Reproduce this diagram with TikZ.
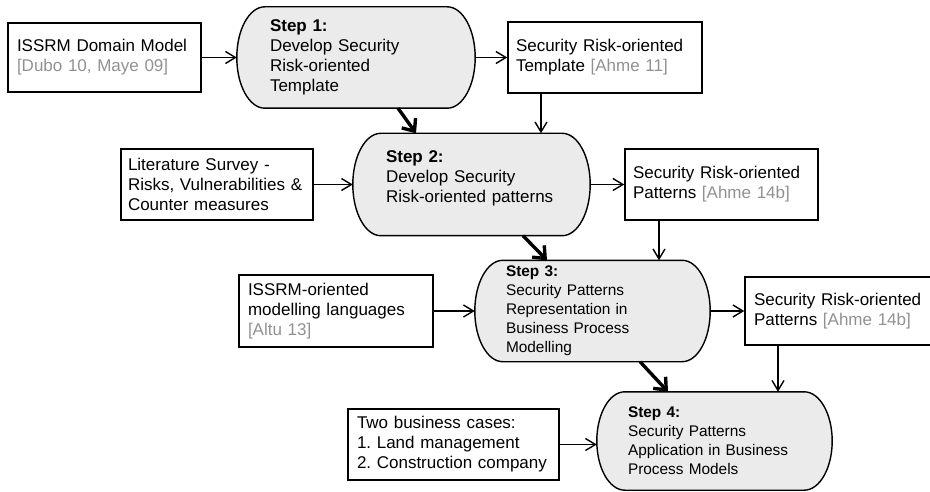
\documentclass[tikz,border=0pt]{standalone}
\usepackage{fontspec}
\setmainfont{Liberation Sans}
\usetikzlibrary{arrows.meta,calc,backgrounds}
\definecolor{citegray}{RGB}{145,145,145}
\definecolor{stepgray}{RGB}{235,235,235}
\newcommand\refcite[1]{\textcolor{citegray}{#1}}
% outline of a process step: straight top and bottom, elliptic ends
\newcommand\stepoutline[1]{%
  \begin{scope}[on background layer]
  \path[stepshape] let \p1=(#1.north west), \p2=(#1.south east), \n1={(\y1-\y2)/2} in
    (\x1+28pt,\y1) -- (\x2-28pt,\y1)
    arc[start angle=90, end angle=-90, x radius=28pt, y radius=\n1*1pt]
    -- (\x1+28pt,\y2)
    arc[start angle=-90, end angle=-270, x radius=28pt, y radius=\n1*1pt]
    -- cycle;
  \end{scope}}
\frenchspacing
\begin{document}
\begin{tikzpicture}[x=1pt,y=1pt,
  txt/.style={font=\fontsize{17}{20}\selectfont},
  smalltxt/.style={font=\fontsize{15.4}{19}\selectfont},
  box/.style={txt, draw, line width=1.5pt, align=left, inner ysep=0pt},
  stepbox/.style={align=left, inner ysep=0pt},
  stepshape/.style={draw, fill=stepgray, line width=1.4pt},
  flow/.style={line width=1.4pt, -{Straight Barb[length=10pt,width=12pt]}},
  mainflow/.style={line width=3.4pt, -{Straight Barb[length=10pt,width=17pt]}}]
\path[use as bounding box, clip] (0,0) rectangle (930,-492);

% inputs
\node[box, text width=175pt, inner xsep=9pt, minimum width=193pt, minimum height=69pt]
  (dm) at (104.5,-57.5) {ISSRM Domain Model\\\refcite{[Dubo 10, Maye 09]}};
\node[box, text width=178pt, inner xsep=7pt, minimum width=192pt, minimum height=71pt]
  (lit) at (217,-184.5) {Literature Survey -\\Risks, Vulnerabilities \&\\Counter measures};
\node[box, text width=176pt, inner xsep=9pt, minimum width=194pt, minimum height=72pt]
  (lang) at (336,-311) {ISSRM-oriented\\modelling languages\\\refcite{[Altu 13]}};
\node[box, text width=193pt, inner xsep=9pt, minimum width=211pt, minimum height=71pt]
  (cases) at (453.5,-444.5) {Two business cases:\\1. Land management\\2. Construction company};

% outputs
\node[box, text width=178pt, inner xsep=8pt, minimum width=194pt, minimum height=71pt]
  (tmpl) at (605,-57.5) {Security Risk-oriented\\Template \refcite{[Ahme 11]}};
\node[box, text width=177pt, inner xsep=8pt, minimum width=193pt, minimum height=71pt]
  (pat) at (721.5,-184.5) {Security Risk-oriented\\Patterns \refcite{[Ahme 14b]}};
\node[box, text width=176pt, inner xsep=9pt, minimum width=194pt, minimum height=68pt]
  (patb) at (842,-311) {Security Risk-oriented\\Patterns \refcite{[Ahme 14b]}};

% process steps
\node[stepbox, txt, text width=172pt, inner xsep=33pt, minimum height=101pt]
  (s1) at (356,-57.5) {\textbf{Step 1:}\\Develop Security\\Risk-oriented\\Template};
\node[stepbox, txt, text width=171pt, inner xsep=33pt, minimum height=102pt]
  (s2) at (471.5,-184.5) {\textbf{Step 2:}\\Develop Security\\Risk-oriented patterns\\[-4pt]\mbox{}};
\node[stepbox, smalltxt, text width=173pt, inner xsep=31pt, minimum height=101pt]
  (s3) at (592.5,-311) {\textbf{Step 3:}\\Security Patterns\\Representation in\\Business Process\\Modelling};
\node[stepbox, smalltxt, text width=173pt, inner xsep=31pt, minimum height=98pt]
  (s4) at (714.5,-441) {\textbf{Step 4:}\\Security Patterns\\Application in Business\\Process Models};
\stepoutline{s1}
\stepoutline{s2}
\stepoutline{s3}
\stepoutline{s4}

% inputs and outputs
\draw[flow] (dm.east) -- (s1.west);
\draw[flow] (s1.east) -- (tmpl.west);
\draw[flow] ([xshift=-64pt]tmpl.south) -- ([xshift=-64pt]tmpl.south |- s2.north);
\draw[flow] (lit.east) -- (s2.west);
\draw[flow] (s2.east) -- (pat.west);
\draw[flow] ([xshift=-62.5pt]pat.south) -- ([xshift=-62.5pt]pat.south |- s3.north);
\draw[flow] (lang.east) -- (s3.west);
\draw[flow] (s3.east) -- (patb.west);
\draw[flow] ([xshift=-64pt]patb.south) -- ([xshift=-64pt]patb.south |- s4.north);
\draw[flow] (cases.east) -- (cases.east -| s4.west);

% main sequence of steps
\draw[mainflow] ([xshift=42pt]s1.south) -- ([xshift=-55.5pt]s2.north);
\draw[mainflow] ([xshift=51.5pt]s2.south) -- ([xshift=-45.5pt]s3.north);
\draw[mainflow] ([xshift=47.5pt]s3.south) -- ([xshift=-46.5pt]s4.north);
\end{tikzpicture}
\end{document}
